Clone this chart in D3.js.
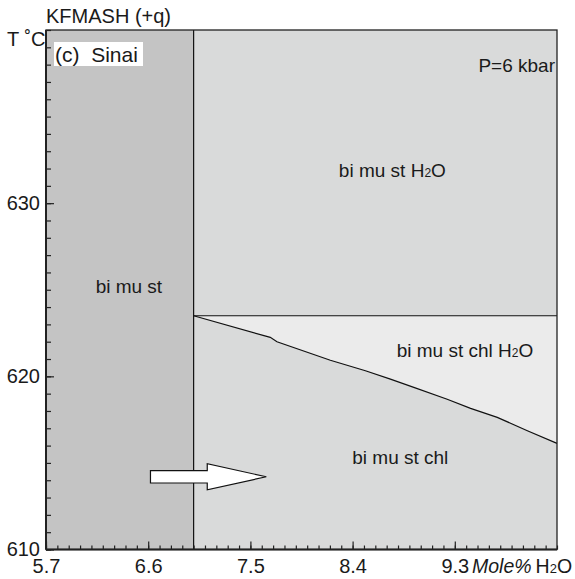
<!DOCTYPE html>
<meta charset="utf-8">
<html>
<head>
  <script src="https://d3js.org/d3.v7.min.js" charset="utf-8"></script>
  <style>
    body { margin: 0; background: #fff; }
    svg text { font-family: 'Liberation Sans', Arial, sans-serif; fill: #1a1a1a; }
    .axis text { font-size: 20px; }
    .axis path { display: none; }
    .axis line { stroke: #222; stroke-width: 1.2; }
    .field { font-size: 19px; }
  </style>
</head>
<body>
<script>
  // Axis ranges and tick labels
  var xDomain = [5.7, 10.2];
  var yDomain = [610, 640];
  var xMajor = [5.7, 6.6, 7.5, 8.4, 9.3];
  var yMajor = [610, 620, 630];

  // Phase boundaries (x = mole% H2O, t = T in C)
  var verticalX = 7.0;
  var horizontalT = 623.5;
  var slopeX = [7.0, 7.675, 7.734, 8.204, 8.513, 8.733, 8.939, 9.233, 9.439, 9.674, 9.939, 10.2];
  var slopeT = [623.5, 622.25, 622.0, 620.93, 620.32, 619.84, 619.36, 618.68, 618.15, 617.63, 616.86, 616.13];

  // Field labels
  var fieldNames = ['bi mu st', 'bi mu st H2O', 'bi mu st chl H2O', 'bi mu st chl'];

  //Margin conventions
  var m = { top: 30, right: 18, bottom: 29.5, left: 46 };
  var W = 575, H = 579;
  var w = W - m.left - m.right, h = H - m.top - m.bottom;

  var svg = d3.select('body').append('svg')
    .attr('width', W).attr('height', H);
  var g = svg.append('g').attr('transform', `translate(${m.left}, ${m.top})`);

  var x = d3.scaleLinear().domain(xDomain).range([0, w]);
  var y = d3.scaleLinear().domain(yDomain).range([h, 0]);

  var slope = slopeX.map((d, i) => [d, slopeT[i]]);

  // Fields
  g.append('rect')
    .attr('x', 0).attr('y', 0)
    .attr('width', x(verticalX)).attr('height', h)
    .attr('fill', '#c4c4c4');
  g.append('rect')
    .attr('x', x(verticalX)).attr('y', 0)
    .attr('width', w - x(verticalX)).attr('height', h)
    .attr('fill', '#d9dada');

  var area = d3.line().x(d => x(d[0])).y(d => y(d[1]));
  // triangle bi mu st chl H2O
  g.append('path')
    .attr('d', area(slope.concat([[xDomain[1], horizontalT]])) + 'Z')
    .attr('fill', '#ebebeb');

  // boundaries
  g.append('line')
    .attr('x1', x(verticalX)).attr('x2', x(verticalX))
    .attr('y1', 0).attr('y2', h)
    .attr('stroke', '#111').attr('stroke-width', 1.2);
  g.append('line')
    .attr('x1', x(verticalX)).attr('x2', w)
    .attr('y1', y(horizontalT)).attr('y2', y(horizontalT))
    .attr('stroke', '#111').attr('stroke-width', 1.2);
  g.append('path')
    .attr('d', area(slope))
    .attr('fill', 'none')
    .attr('stroke', '#111').attr('stroke-width', 1.2);

  // Arrow
  var ax0 = 6.62, ax1 = 7.12, ax2 = 7.64, at = 614.2, sh = 0.36, hh = 0.75;
  var arrowPts = [
    [ax0, at + sh], [ax1, at + sh], [ax1, at + hh], [ax2, at],
    [ax1, at - hh], [ax1, at - sh], [ax0, at - sh]
  ];
  g.append('path')
    .attr('d', area(arrowPts) + 'Z')
    .attr('fill', '#fff')
    .attr('stroke', '#111').attr('stroke-width', 1.2);

  // Minor + major ticks (inside)
  var xMinor = d3.range(0, 46).map(i => +(xDomain[0] + i * 0.1).toFixed(1));
  var yMinor = d3.range(610, 641);

  g.append('g').attr('class', 'axis')
    .attr('transform', `translate(0, ${h})`)
    .call(d3.axisBottom(x).tickValues(xMinor).tickSize(-4).tickFormat(''));
  g.append('g').attr('class', 'axis')
    .attr('transform', `translate(0, ${h})`)
    .call(d3.axisBottom(x).tickValues(xMajor).tickSize(-8).tickPadding(9)
      .tickFormat(d3.format('.1f')));

  g.append('g').attr('class', 'axis')
    .call(d3.axisLeft(y).tickValues(yMinor).tickSize(-5).tickFormat(''));
  g.append('g').attr('class', 'axis')
    .call(d3.axisLeft(y).tickValues(yMajor).tickSize(-8).tickPadding(6)
      .tickFormat(d3.format('d')));

  // Frame
  g.append('rect')
    .attr('x', 0).attr('y', 0).attr('width', w).attr('height', h)
    .attr('fill', 'none').attr('stroke', '#222').attr('stroke-width', 1.3);
  g.append('line').attr('x1', 0).attr('x2', 0).attr('y1', 0).attr('y2', h)
    .attr('stroke', '#222').attr('stroke-width', 2);
  g.append('line').attr('x1', 0).attr('x2', w).attr('y1', h).attr('y2', h)
    .attr('stroke', '#222').attr('stroke-width', 2);

  // Field labels
  var fieldPos = [[6.43, 624.8], [8.75, 631.5], [9.39, 621.1], [8.82, 614.95]];
  fieldNames.forEach((name, i) => {
    var t = g.append('text').attr('class', 'field')
      .attr('x', x(fieldPos[i][0])).attr('y', y(fieldPos[i][1]))
      .attr('text-anchor', 'middle');
    var parts = name.split('H2O');
    t.append('tspan').text(parts[0]);
    if (parts.length > 1) {
      t.append('tspan').text('H');
      t.append('tspan').attr('font-size', '12px').text('2');
      t.append('tspan').text('O');
    }
  });

  // Titles and annotations
  svg.append('text').attr('x', 46).attr('y', 23)
    .attr('font-size', '20px').text('KFMASH (+q)');
  svg.append('text').attr('x', 7).attr('y', 46)
    .attr('font-size', '20px').text('T ˚C');
  svg.append('rect').attr('x', 54).attr('y', 42).attr('width', 89).attr('height', 24)
    .attr('fill', '#fff');
  svg.append('text').attr('x', 55).attr('y', 62)
    .attr('font-size', '21px').attr('xml:space', 'preserve').text('(c)  Sinai');
  svg.append('text').attr('x', 555).attr('y', 72)
    .attr('text-anchor', 'end').attr('font-size', '19px').text('P=6 kbar');

  var xl = svg.append('text').attr('x', 472).attr('y', 573).attr('font-size', '19.5px');
  xl.append('tspan').attr('font-style', 'italic').text('Mole%');
  xl.append('tspan').attr('dx', 4).text('H');
  xl.append('tspan').attr('font-size', '13px').text('2');
  xl.append('tspan').text('O');
</script>
</body>
</html>
